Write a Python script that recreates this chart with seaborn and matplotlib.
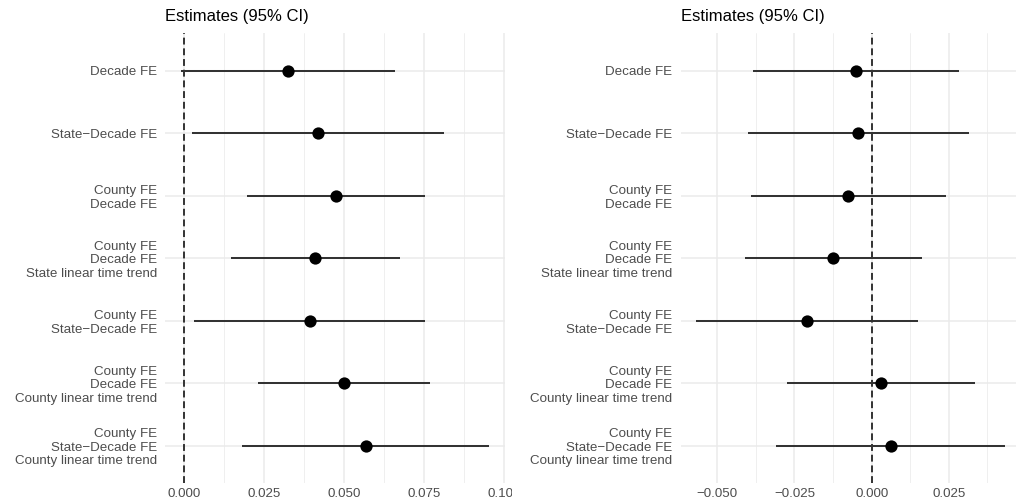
import numpy as np
import pandas as pd
import matplotlib
matplotlib.use("Agg")
import matplotlib.pyplot as plt
from matplotlib.transforms import Bbox
import seaborn as sns

# Model specifications (rows, top to bottom)
specs = [
    "Decade FE",
    "State\u2212Decade FE",
    "County FE\nDecade FE",
    "County FE\nDecade FE\nState linear time trend",
    "County FE\nState\u2212Decade FE",
    "County FE\nDecade FE\nCounty linear time trend",
    "County FE\nState\u2212Decade FE\nCounty linear time trend",
]

# Left panel: point estimates and 95% CI bounds
left_est = [0.0325, 0.0419, 0.0475, 0.0410, 0.0394, 0.0500, 0.0569]
left_lo = [-0.0009, 0.0027, 0.0196, 0.0146, 0.0032, 0.0231, 0.0182]
left_hi = [0.0660, 0.0812, 0.0754, 0.0676, 0.0753, 0.0769, 0.0954]

# Right panel: point estimates and 95% CI bounds
right_est = [-0.0051, -0.0043, -0.0075, -0.0125, -0.0210, 0.0030, 0.0062]
right_lo = [-0.0385, -0.0401, -0.0390, -0.0411, -0.0568, -0.0274, -0.0310]
right_hi = [0.0283, 0.0314, 0.0240, 0.0162, 0.0149, 0.0334, 0.0432]

left_ticks = [0.000, 0.025, 0.050, 0.075, 0.100]
right_ticks = [-0.050, -0.025, 0.000, 0.025]
title = "Estimates (95% CI)"

sns.set_theme(style="whitegrid")
plt.rcParams["font.family"] = ["Liberation Sans", "DejaVu Sans"]

W, H = 1016, 504
fig = plt.figure(figsize=(W / 100, H / 100), dpi=100)
fig.patch.set_facecolor("white")

GRID = "#EBEBEB"
TXT = "#4D4D4D"
panel_w = 339.5
panel_bottom, panel_top = 21, 471


def draw_panel(left_px, est, lo, hi, ticks):
    ax = fig.add_axes([left_px / W, panel_bottom / H, panel_w / W,
                       (panel_top - panel_bottom) / H])
    df = pd.DataFrame({"row": np.arange(len(specs)), "est": est,
                       "lo": lo, "hi": hi})
    ax.set_facecolor("white")
    for s in ax.spines.values():
        s.set_visible(False)

    ax.axvline(0, color="black", lw=1.1, ls=(0, (4.5, 2.5)), zorder=2)
    ax.hlines(df["row"], df["lo"], df["hi"], color="#333333", lw=1.45,
              zorder=3)
    sns.scatterplot(data=df, x="est", y="row", ax=ax, color="black",
                    edgecolor="black", s=78, linewidth=0, zorder=4,
                    legend=False)
    ax.set_xlabel("")
    ax.set_ylabel("")

    step = ticks[1] - ticks[0]
    minor = np.arange(ticks[0] - step / 2, ticks[-1] + step, step)
    ax.set_xticks(ticks)
    ax.set_xticklabels([f"{t:.3f}".replace("-", "\u2212") for t in ticks])
    ax.set_xticks(minor, minor=True)
    ax.set_yticks(df["row"])
    ax.set_yticklabels(specs)

    # x range with 5% padding around the intervals
    xmin, xmax = df["lo"].min(), df["hi"].max()
    pad = 0.05 * (xmax - xmin)
    ax.set_xlim(xmin - pad, xmax + pad)
    ax.set_ylim(len(specs) - 1 + 0.6, -0.6)

    ax.grid(False)
    ax.grid(which="major", axis="both", color=GRID, lw=1.1, zorder=0)
    ax.grid(which="minor", axis="x", color=GRID, lw=0.55, zorder=0)

    ax.tick_params(axis="both", which="both", length=0, colors=TXT,
                   labelsize=9.6)
    ax.tick_params(axis="y", pad=6)
    ax.tick_params(axis="x", pad=3.5)
    for lab in ax.get_yticklabels():
        lab.set_linespacing(1.18)
    ax.set_title(title, loc="left", fontsize=12, pad=9, color="black")
    return ax


ax_l = draw_panel(165.4, left_est, left_lo, left_hi, left_ticks)
ax_r = draw_panel(680.9, right_est, right_lo, right_hi, right_ticks)

# the left panel's last tick label is cut at its grid cell edge
cell = Bbox.from_extents(0, 0, 512, H)
for lab in ax_l.get_xticklabels():
    lab.set_clip_on(True)
    lab.set_clip_box(cell)

fig.savefig("out.png", dpi=100, facecolor="white")
